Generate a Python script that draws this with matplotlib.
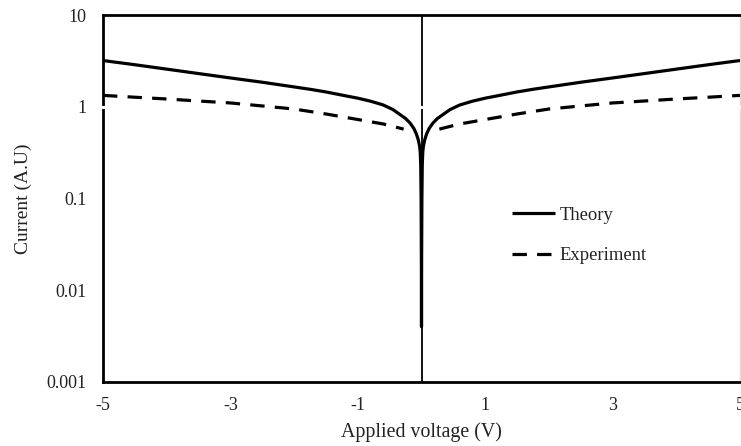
import matplotlib
matplotlib.use("Agg")
import matplotlib.pyplot as plt
import numpy as np

# Current–voltage data (arbitrary units); the curves are symmetric about 0 V
theory_v_pos = [0, 0.002, 0.006, 0.012, 0.02, 0.03, 0.05, 0.08, 0.12, 0.18, 0.25,
                0.35, 0.45, 0.6, 0.8, 1, 1.25, 1.5, 1.75, 2, 2.5, 3, 3.5, 4, 4.5, 5]
theory_i_pos = [0.004, 0.0214, 0.0963, 0.232, 0.321, 0.373, 0.434, 0.505, 0.58,
                0.665, 0.745, 0.834, 0.933, 1.045, 1.15, 1.24, 1.34, 1.45, 1.55,
                1.645, 1.85, 2.06, 2.30, 2.57, 2.87, 3.19]

exp_v_pos = [0.28, 0.35, 0.6, 1, 1.5, 2, 2.5, 3, 3.5, 4, 4.5, 5]
exp_i_pos = [0.57, 0.587, 0.649, 0.726, 0.834, 0.945, 1.02, 1.10, 1.155, 1.215,
             1.27, 1.33]

x_ticks = [-5, -3, -1, 1, 3, 5]
y_ticks = [0.001, 0.01, 0.1, 1, 10]
y_tick_labels = ["0.001", "0.01", "0.1", "1", "10"]

# mirror the positive branch onto negative voltages
theory_v = [-v for v in theory_v_pos[::-1]] + theory_v_pos[1:]
theory_i = theory_i_pos[::-1] + theory_i_pos[1:]
exp_v = [-v for v in exp_v_pos[::-1]] + [np.nan] + exp_v_pos
exp_i = exp_i_pos[::-1] + [np.nan] + exp_i_pos

plt.rcParams['font.family'] = ['Liberation Serif', 'DejaVu Serif']

fig = plt.figure(figsize=(7.41, 4.46), dpi=100)
ax = fig.add_axes([103 / 741, 64 / 446, 637 / 741, 367 / 446])

ax.plot(theory_v, theory_i, color='black', lw=2.3, solid_capstyle='butt',
        solid_joinstyle='round', label='Theory', zorder=4)
ax.plot(exp_v, exp_i, color='black', lw=2.3, linestyle=(0, (4.5, 3.2)),
        dash_capstyle='butt', label='Experiment', zorder=4)

ax.axvline(0, color='black', lw=1.3, zorder=2)
ax.axhline(1, xmin=-0.004, xmax=1.0, color='white', lw=2.2, zorder=3,
           clip_on=False)

ax.set_yscale('log')
ax.set_xlim(-5, 5)
ax.set_ylim(0.001, 10)
ax.set_xticks(x_ticks)
ax.set_xticklabels([str(t) for t in x_ticks])
ax.set_yticks(y_ticks)
ax.set_yticklabels(y_tick_labels)
ax.minorticks_off()
ax.tick_params(axis='both', length=0, labelsize=13, colors='#222222')
ax.tick_params(axis='y', pad=12)
ax.tick_params(axis='x', pad=11)

for side in ['left', 'bottom', 'top']:
    ax.spines[side].set_linewidth(2)
    ax.spines[side].set_color('black')
ax.spines['right'].set_linewidth(1)
ax.spines['right'].set_color('#dddddd')

ax.set_xlabel('Applied voltage (V)', fontsize=14.3, labelpad=6, color='#222222')
ax.set_ylabel('Current (A.U)', fontsize=14, labelpad=10, color='#222222')

leg = ax.legend(loc='upper left', bbox_to_anchor=(497 / 741, 1 - 192 / 446),
                bbox_transform=fig.transFigure, frameon=False, fontsize=13.4,
                handlelength=2.3, handletextpad=0.27, labelspacing=1.25,
                borderpad=0.3)
for t in leg.get_texts():
    t.set_color('#222222')

fig.savefig('out.png', dpi=100, facecolor='white')
